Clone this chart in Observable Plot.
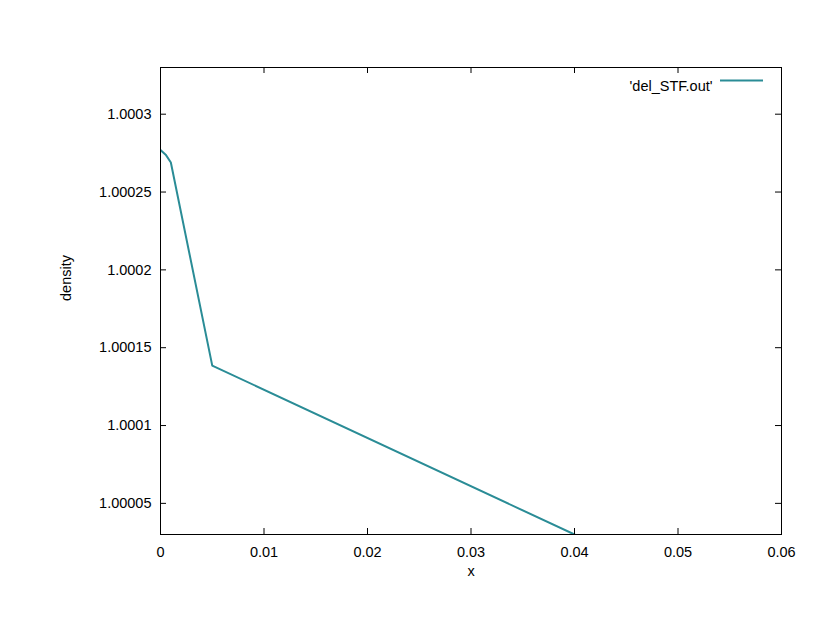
<!DOCTYPE html>
<html>
<head>
<meta charset="utf-8">
<script src="https://cdn.jsdelivr.net/npm/d3@7"></script>
<script src="https://cdn.jsdelivr.net/npm/@observablehq/plot@0.6"></script>
<style>
  html, body { margin: 0; padding: 0; background: #fff; }
  #chart svg { display: block; }
</style>
</head>
<body>
<div id="chart"></div>
<script>
// Data
const xs = [0, 0.0005, 0.001, 0.005, 0.04];
const densities = [1.000277, 1.000274, 1.000269, 1.0001385, 1.00003];
const xTicks = [0, 0.01, 0.02, 0.03, 0.04, 0.05, 0.06];
const yTicks = [1.00005, 1.0001, 1.00015, 1.0002, 1.00025, 1.0003];
const seriesName = "'del_STF.out'";
const xLabel = "x";
const yLabel = "density";

const data = xs.map((x, i) => ({x, y: densities[i]}));

const W = 830, H = 642;
const mL = 160, mR = 49, mT = 67, mB = 108;
const pw = W - mL - mR, ph = H - mT - mB;
const tl = 6;
const color = "#2a8c96";
const font = "Liberation Sans, Arial, Helvetica, sans-serif";
const fs = 14.5;

const fmtY = d => String(+d.toFixed(5));

const chart = Plot.plot({
  width: W, height: H,
  marginLeft: mL, marginRight: mR, marginTop: mT, marginBottom: mB,
  style: {fontFamily: font, fontSize: fs + "px", color: "#000", background: "#fff"},
  x: {domain: [0, 0.06]},
  y: {domain: [1.00003, 1.00033]},
  marks: [
    Plot.line(data, {x: "x", y: "y", stroke: color, strokeWidth: 2, clip: true}),
    // inward ticks on all four sides
    Plot.tickX(xTicks, {x: d => d, insetTop: ph - tl, stroke: "#000"}),
    Plot.tickX(xTicks, {x: d => d, insetBottom: ph - tl, stroke: "#000"}),
    Plot.tickY(yTicks, {y: d => d, insetRight: pw - tl, stroke: "#000"}),
    Plot.tickY(yTicks, {y: d => d, insetLeft: pw - tl, stroke: "#000"}),
    Plot.axisX(xTicks, {tickSize: 0, tickPadding: 12, label: null, tickFormat: d => String(d), fontSize: fs}),
    Plot.axisY(yTicks, {tickSize: 0, tickPadding: 9, label: null, tickFormat: fmtY, fontSize: fs}),
    Plot.frame({stroke: "#000", strokeWidth: 1}),
    Plot.text([xLabel], {frameAnchor: "bottom", dy: 41, text: d => d, fontSize: fs}),
    Plot.text([yLabel], {frameAnchor: "left", dx: -94, rotate: -90, text: d => d, fontSize: fs}),
    Plot.text([seriesName], {frameAnchor: "top-right", dx: -69, dy: 13, textAnchor: "end", text: d => d, fontSize: fs})
  ]
});

// legend sample line
d3.select(chart).append("line")
  .attr("x1", W - mR - 61).attr("x2", W - mR - 18)
  .attr("y1", mT + 13.5).attr("y2", mT + 13.5)
  .attr("stroke", color).attr("stroke-width", 2);

document.getElementById("chart").appendChild(chart);
</script>
</body>
</html>
